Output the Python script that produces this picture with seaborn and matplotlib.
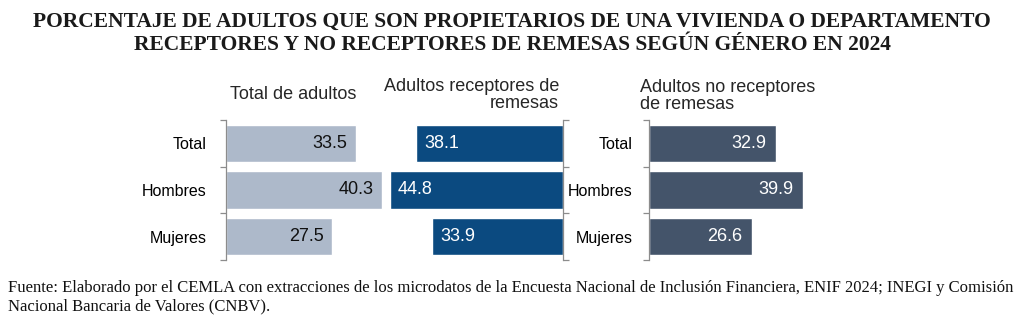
import matplotlib
matplotlib.use("Agg")
import matplotlib.pyplot as plt
import seaborn as sns
import pandas as pd

sns.set_theme(style="white")
plt.rcParams['font.family'] = ['Liberation Sans', 'DejaVu Sans']

categories = ["Total", "Hombres", "Mujeres"]
total_adultos = [33.5, 40.3, 27.5]
receptores = [38.1, 44.8, 33.9]
no_receptores = [32.9, 39.9, 26.6]

panel_titles = ["Total de adultos", "Adultos receptores de\nremesas", "Adultos no receptores\nde remesas"]
title = ("PORCENTAJE DE ADULTOS QUE SON PROPIETARIOS DE UNA VIVIENDA O DEPARTAMENTO\n"
         "RECEPTORES Y NO RECEPTORES DE REMESAS SEGÚN GÉNERO EN 2024")
footer = ("Fuente: Elaborado por el CEMLA con extracciones de los microdatos de la Encuesta Nacional de Inclusión Financiera, ENIF 2024; INEGI y Comisión\n"
          "Nacional Bancaria de Valores (CNBV).")

colors = ["#ADB9CA", "#0B4A80", "#44546A"]

W, H = 1024, 321
fig = plt.figure(figsize=(W / 100, H / 100), dpi=100)

def px_axes(left, top, width, height):
    return fig.add_axes([left / W, 1 - (top + height) / H, width / W, height / H])

scale = 3.87  # px per unit
ax_top, ax_h = 120, 140

def setup(ax, side):
    for s in ["top", "right", "left", "bottom"]:
        ax.spines[s].set_visible(False)
    ax.spines[side].set_visible(True)
    ax.spines[side].set_color("#8c8c8c")
    ax.spines[side].set_linewidth(0.9)
    ax.set_xlabel("")
    ax.set_ylabel("")
    ax.set_xticks([])
    ax.set_yticks([-0.5, 0.5, 1.5, 2.5], minor=True)
    ax.tick_params(axis="y", which="minor", length=4, color="#8c8c8c", width=0.9,
                   left=(side == "left"), right=(side == "right"), direction="out")
    ax.tick_params(axis="y", which="major", length=0)
    ax.set_ylim(2.5, -0.5)

# Panel 1
ax1 = px_axes(226, ax_top, 170, ax_h)
df1 = pd.DataFrame({"cat": categories, "val": total_adultos})
sns.barplot(data=df1, x="val", y="cat", orient="h", color=colors[0], width=0.8, ax=ax1, saturation=1)
ax1.set_xlim(0, 170 / scale)
setup(ax1, "left")
ax1.tick_params(axis="y", which="major", labelsize=11.5, pad=14, labelcolor="black")
for i, v in enumerate(total_adultos):
    ax1.annotate(f"{v:.1f}", xy=(v, i), xytext=(-6, 0), textcoords="offset points",
                 ha="right", va="center", fontsize=13, color="#111111")
fig.text(230 / W, 1 - 95 / H, panel_titles[0], ha="left", va="center", fontsize=13)

# Panel 2
ax2 = px_axes(383, ax_top, 180, ax_h)
df2 = pd.DataFrame({"cat": categories, "val": receptores})
sns.barplot(data=df2, x="val", y="cat", orient="h", color=colors[1], width=0.8, ax=ax2, saturation=1)
ax2.set_xlim(180 / scale, 0)
setup(ax2, "right")
ax2.set_yticklabels([])
for i, v in enumerate(receptores):
    ax2.annotate(f"{v:.1f}", xy=(v, i), xytext=(6, 0), textcoords="offset points",
                 ha="left", va="center", fontsize=13, color="white")
fig.text(559 / W, 1 - 95 / H, panel_titles[1], ha="right", va="center", fontsize=13, linespacing=1.05)

# Panel 3
ax3 = px_axes(649, ax_top, 170, ax_h)
df3 = pd.DataFrame({"cat": categories, "val": no_receptores})
sns.barplot(data=df3, x="val", y="cat", orient="h", color=colors[2], width=0.8, ax=ax3, saturation=1)
ax3.set_xlim(0, 170 / scale)
setup(ax3, "left")
ax3.tick_params(axis="y", which="major", labelsize=11.5, pad=12, labelcolor="black")
for i, v in enumerate(no_receptores):
    ax3.annotate(f"{v:.1f}", xy=(v, i), xytext=(-7, 0), textcoords="offset points",
                 ha="right", va="center", fontsize=13, color="white")
fig.text(640 / W, 1 - 96 / H, panel_titles[2], ha="left", va="center", fontsize=13, linespacing=1.05)

fig.text(0.5, 1 - 33 / H, title, ha="center", va="center", fontsize=15.5, fontweight="bold",
         family=["Liberation Serif", "DejaVu Serif"], linespacing=1.2, color="#1a1a1a")
fig.text(8 / W, 1 - 297 / H, footer, ha="left", va="center", fontsize=12,
         family=["Liberation Serif", "DejaVu Serif"], linespacing=1.2, color="#111111")

fig.savefig("out.png", dpi=100)
